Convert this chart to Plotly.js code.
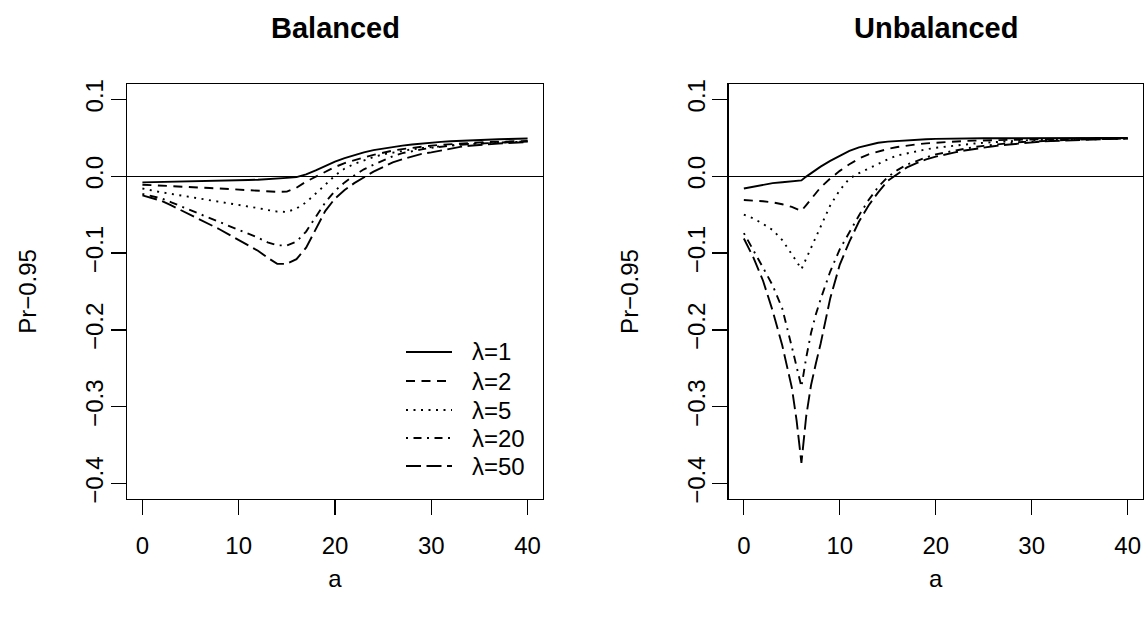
<!DOCTYPE html>
<html>
<head>
<meta charset="utf-8">
<script src="https://cdn.plot.ly/plotly-3.0.1.min.js"></script>
<style>
  html, body { margin: 0; padding: 0; background: #fff; }
  #chart { width: 1144px; height: 618px; }
</style>
</head>
<body>
<div id="chart"></div>
<script>
// Coverage error (Pr - 0.95) against a, for several values of lambda.
const panelTitles = ['Balanced', 'Unbalanced'];
const lambdaLabels = ['λ=1', 'λ=2', 'λ=5', 'λ=20', 'λ=50'];
const xTicks = [0, 10, 20, 30, 40];
const yTicks = [-0.4, -0.3, -0.2, -0.1, 0.0, 0.1];

// Balanced design
const aBal = [0,1,2,3,4,5,6,7,8,9,10,11,12,13,14,15,16,17,18,19,20,
              21,22,23,24,25,26,27,28,29,30,31,32,33,34,35,36,37,38,39,40];
const balL1 = [-0.0080,-0.0078,-0.0075,-0.0073,-0.0070,-0.0068,-0.0065,-0.0062,-0.0060,-0.0057,-0.0054,
               -0.0050,-0.0046,-0.0040,-0.0033,-0.0022,-0.0012,0.0025,0.0075,0.0135,0.0190,
               0.0235,0.0275,0.0310,0.0340,0.0362,0.0382,0.0398,0.0413,0.0426,0.0437,
               0.0447,0.0455,0.0462,0.0468,0.0473,0.0477,0.0481,0.0485,0.0488,0.0491];
const balL2 = [-0.0110,-0.0115,-0.0120,-0.0128,-0.0135,-0.0141,-0.0147,-0.0154,-0.0160,-0.0168,-0.0175,
               -0.0183,-0.0190,-0.0197,-0.0203,-0.0200,-0.0150,-0.0070,-0.0005,0.0055,0.0120,
               0.0170,0.0210,0.0245,0.0278,0.0310,0.0333,0.0353,0.0370,0.0385,0.0398,
               0.0409,0.0418,0.0426,0.0433,0.0439,0.0444,0.0449,0.0453,0.0457,0.0460];
const balL5 = [-0.016,-0.019,-0.021,-0.023,-0.025,-0.027,-0.029,-0.031,-0.033,-0.035,-0.037,
               -0.039,-0.0415,-0.044,-0.046,-0.0465,-0.042,-0.034,-0.023,-0.011,0.001,
               0.010,0.016,0.021,0.025,0.0285,0.0310,0.0332,0.0350,0.0366,0.0380,
               0.0393,0.0404,0.0414,0.0422,0.0429,0.0435,0.0440,0.0445,0.0449,0.0453];
const balL20 = [-0.023,-0.026,-0.029,-0.034,-0.039,-0.044,-0.049,-0.054,-0.059,-0.064,-0.069,
                -0.074,-0.080,-0.086,-0.090,-0.090,-0.085,-0.072,-0.053,-0.034,-0.019,
                -0.008,0.001,0.009,0.015,0.021,0.026,0.030,0.033,0.035,0.037,
                0.0385,0.0398,0.0409,0.0418,0.0426,0.0432,0.0438,0.0443,0.0447,0.0451];
const balL50 = [-0.025,-0.028,-0.032,-0.038,-0.044,-0.050,-0.056,-0.062,-0.069,-0.076,-0.083,
                -0.090,-0.097,-0.106,-0.114,-0.114,-0.108,-0.093,-0.068,-0.045,-0.029,
                -0.018,-0.009,-0.001,0.006,0.012,0.018,0.022,0.026,0.029,0.031,
                0.0335,0.0362,0.0382,0.0396,0.0408,0.0418,0.0426,0.0433,0.0439,0.0444];

// Unbalanced design
const aUnb = [0,1,2,3,4,5,5.5,6,6.5,7,7.5,8,9,10,11,12,13,14,15,16,17,18,19,20,
              21,22,23,24,25,26,27,28,29,30,31,32,33,34,35,36,37,38,39,40];
const unbL1 = [-0.016,-0.0135,-0.011,-0.009,-0.0078,-0.0066,-0.0060,-0.0055,-0.0005,0.004,0.0085,0.0125,
               0.020,0.027,0.033,0.0375,0.041,0.0435,0.045,0.046,0.047,0.0477,0.0482,0.0486,
               0.0489,0.0491,0.0492,0.0493,0.0494,0.0494,0.0495,0.0495,0.0495,0.0495,0.0496,0.0496,
               0.0496,0.0496,0.0496,0.0497,0.0497,0.0497,0.0497,0.0497];
const unbL2 = [-0.031,-0.0315,-0.0325,-0.034,-0.0365,-0.040,-0.0425,-0.045,-0.0375,-0.030,-0.022,-0.0145,
               -0.003,0.007,0.0155,0.023,0.0285,0.0325,0.0355,0.038,0.040,0.0415,0.0428,0.0437,
               0.0445,0.0452,0.0458,0.0463,0.0467,0.0470,0.0473,0.0476,0.0478,0.0480,0.0482,0.0484,
               0.0486,0.0487,0.0488,0.0489,0.0490,0.0491,0.0492,0.0493];
const unbL5 = [-0.050,-0.055,-0.062,-0.070,-0.083,-0.101,-0.111,-0.121,-0.107,-0.094,-0.080,-0.065,
               -0.038,-0.018,-0.003,0.004,0.010,0.017,0.022,0.027,0.030,0.0325,0.035,0.037,
               0.0385,0.040,0.0413,0.0425,0.0435,0.0444,0.0452,0.0459,0.0465,0.0470,0.0474,0.0477,
               0.0480,0.0483,0.0485,0.0487,0.0489,0.0490,0.0491,0.0492];
const unbL20 = [-0.074,-0.096,-0.119,-0.142,-0.172,-0.222,-0.250,-0.274,-0.236,-0.204,-0.180,-0.160,
                -0.124,-0.095,-0.073,-0.051,-0.031,-0.014,-0.001,0.008,0.015,0.020,0.0245,0.0285,
                0.031,0.0335,0.036,0.038,0.0395,0.041,0.0425,0.0435,0.0445,0.0452,0.0460,0.0465,
                0.0470,0.0474,0.0477,0.0480,0.0483,0.0486,0.0488,0.0490];
const unbL50 = [-0.081,-0.106,-0.136,-0.175,-0.220,-0.275,-0.318,-0.373,-0.312,-0.272,-0.244,-0.218,
                -0.159,-0.115,-0.085,-0.059,-0.038,-0.021,-0.006,0.003,0.0115,0.017,0.022,0.0255,
                0.0285,0.031,0.0335,0.0356,0.0375,0.039,0.0405,0.0418,0.043,0.044,0.045,0.0458,
                0.0464,0.0470,0.0474,0.0478,0.0482,0.0485,0.0488,0.0490];

// Line styles for lambda = 1, 2, 5, 20, 50 (solid, dashed, dotted, dot-dash, long-dash)
const dashes = ['solid', '9px,6.5px', '2px,5.5px', '2px,5.5px,8px,5.5px', '15px,5.5px'];
const LW = 1.9;

const balSeries = [balL1, balL2, balL5, balL20, balL50];
const unbSeries = [unbL1, unbL2, unbL5, unbL20, unbL50];

const traces = [];
balSeries.forEach((ys, i) => traces.push({
  x: aBal, y: ys, type: 'scatter', mode: 'lines', name: lambdaLabels[i],
  line: {color: '#000', width: LW, dash: dashes[i]}, xaxis: 'x', yaxis: 'y',
  showlegend: false, hoverinfo: 'skip'
}));
unbSeries.forEach((ys, i) => traces.push({
  x: aUnb, y: ys, type: 'scatter', mode: 'lines', name: lambdaLabels[i],
  line: {color: '#000', width: LW, dash: dashes[i]}, xaxis: 'x2', yaxis: 'y2',
  showlegend: false, hoverinfo: 'skip'
}));

const W = 1144, H = 618;
// plot boxes in pixels
const boxL = {x0: 127, x1: 543}, boxR = {x0: 728.5, x1: 1143};
const boxTop = 84, boxBot = 499;
const FONT = 'Liberation Sans, Arial, Helvetica, sans-serif';

function xAxis(box, yref) {
  return {
    domain: [box.x0 / W, box.x1 / W], anchor: yref,
    range: [-1.6, 41.6], tickvals: xTicks, ticktext: xTicks.map(String),
    ticks: 'outside', ticklen: 15, tickwidth: 1.3, tickcolor: '#000',
    ticklabelstandoff: 10,
    showline: true, mirror: true, linecolor: '#000', linewidth: 1.3,
    showgrid: false, zeroline: false, fixedrange: true,
    tickfont: {family: FONT, size: 24, color: '#000'},
    title: {text: 'a', font: {family: FONT, size: 24, color: '#000'}, standoff: 12}
  };
}
function yAxis(xref) {
  return {
    domain: [1 - boxBot / H, 1 - boxTop / H], anchor: xref,
    range: [-0.42, 0.12], tickvals: yTicks, tickformat: '.1f',
    tickangle: -90,
    ticks: 'outside', ticklen: 15, tickwidth: 1.3, tickcolor: '#000',
    ticklabelstandoff: -2,
    showline: true, mirror: true, linecolor: '#000', linewidth: 1.3,
    showgrid: false, zeroline: true, zerolinecolor: '#000', zerolinewidth: 1.1,
    fixedrange: true,
    tickfont: {family: FONT, size: 24, color: '#000'},
    title: {text: 'Pr−0.95', font: {family: FONT, size: 24, color: '#000'}, standoff: 37}
  };
}

// Legend in the lower right of the first panel
const legRows = [352, 381, 410, 438, 466];
const legX0 = 406, legX1 = 452, legTextX = 470;
const shapes = [];
const annotations = [];
lambdaLabels.forEach((lab, i) => {
  const yd = (boxBot - legRows[i]) / (boxBot - boxTop);
  shapes.push({
    type: 'line', xref: 'x domain', yref: 'y domain',
    x0: (legX0 - boxL.x0) / (boxL.x1 - boxL.x0), x1: (legX1 - boxL.x0) / (boxL.x1 - boxL.x0),
    y0: yd, y1: yd, line: {color: '#000', width: LW, dash: dashes[i]}
  });
  annotations.push({
    xref: 'x domain', yref: 'y domain',
    x: (legTextX - boxL.x0) / (boxL.x1 - boxL.x0), y: yd,
    xanchor: 'left', yanchor: 'middle', showarrow: false, text: lab,
    font: {family: FONT, size: 24, color: '#000'}
  });
});
[boxL, boxR].forEach((b, i) => annotations.push({
  xref: 'paper', yref: 'paper', x: (b.x0 + b.x1) / 2 / W, y: 1 - 28 / H,
  xanchor: 'center', yanchor: 'middle', showarrow: false,
  text: '<b>' + panelTitles[i] + '</b>',
  font: {family: FONT, size: 29, color: '#000'}
}));

const layout = {
  width: W, height: H, margin: {l: 0, r: 0, t: 0, b: 0},
  paper_bgcolor: '#fff', plot_bgcolor: '#fff',
  font: {family: FONT, size: 24, color: '#000'},
  showlegend: false,
  xaxis: xAxis(boxL, 'y'), yaxis: yAxis('x'),
  xaxis2: xAxis(boxR, 'y2'), yaxis2: yAxis('x2'),
  shapes: shapes, annotations: annotations
};

Plotly.newPlot('chart', traces, layout, {displayModeBar: false, staticPlot: true});
</script>
</body>
</html>
